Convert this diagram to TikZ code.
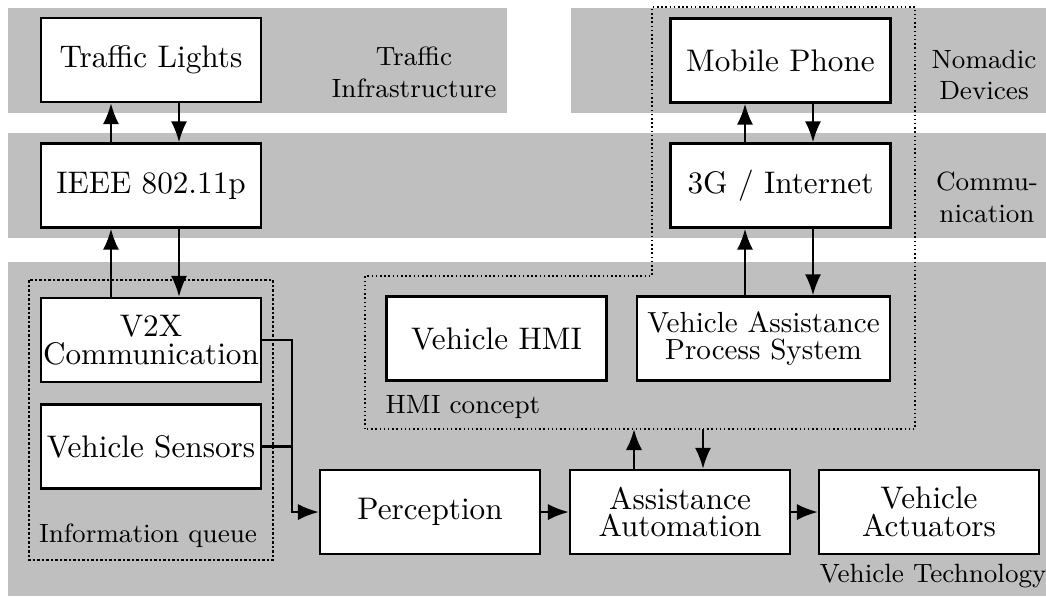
\documentclass[tikz,border=0pt]{standalone}
\usetikzlibrary{arrows.meta,calc}
\begin{document}
\begin{tikzpicture}[x=0.3333pt,y=-0.3333pt,
  band/.style={fill=lightgray,draw=none},
  blk/.style={draw,fill=white,line width=0.75pt,minimum width=73.3pt,minimum height=28pt,
    align=center,inner sep=0.4pt,font=\fontsize{10.4pt}{9.3pt}\selectfont},
  lbl/.style={font=\fontsize{8.8pt}{10.6pt}\selectfont,align=center,inner sep=0pt},
  arr/.style={-{Latex[length=7pt,width=5.4pt]},line width=0.85pt},
  link/.style={line width=0.85pt},
  grpdot/.style={line width=0.6pt,dash pattern=on 0.5pt off 0.9pt},
  grpdash/.style={line width=0.6pt,dash pattern=on 0.9pt off 0.6pt}]
\useasboundingbox (0,0) rectangle (1046,597);

% layer bands
\fill[band] (8,8) rectangle (507,113);
\fill[band] (571,8) rectangle (1046,113);
\fill[band] (8,133) rectangle (1046,238);
\fill[band] (8,262) rectangle (1046,596);

% band captions
\node[lbl] at (414,72.5) {Traffic\\Infrastructure};
\node[lbl] at (984,75) {Nomadic\\Devices};
\node[lbl] at (987,197.5) {Commu-\\nication};
\node[lbl,anchor=base] at (933,582) {Vehicle Technology};

% groups
\draw[grpdash] (29,280) rectangle (273,560);
\node[lbl,anchor=base] at (148,542) {Information queue};
\draw[grpdot] (365,429) -- (365,276) -- (652,276) -- (652,7) -- (915,7) -- (915,429) -- cycle;
\node[lbl,anchor=base west] at (385,413) {HMI concept};

% blocks
\node[blk] (tl) at (151,60) {Traffic Lights};
\node[blk] (ieee) at (151,185.5) {IEEE 802.11p};
\node[blk] (v2x) at (151,340) {V2X\\Communication};
\node[blk] (sens) at (151,446.5) {Vehicle Sensors};
\node[blk] (perc) at (430,512) {Perception};
\node[blk] (assist) at (680,512) {Assistance\\Automation};
\node[blk] (act) at (929,512) {Vehicle\\Actuators};
\node[blk] (mobile) at (780.5,60.5) {Mobile Phone};
\node[blk] (inet) at (780.5,185.5) {3G / Internet};
\node[blk,minimum width=84.3pt,font=\fontsize{9.7pt}{8.9pt}\selectfont] (vaps) at (763.5,338.5)
  {Vehicle Assistance\\Process System};
\node[blk] (hmi) at (496.5,338.5) {Vehicle HMI};

% connector columns
\coordinate (c1) at (111,0);
\coordinate (c2) at (179,0);
\coordinate (c3) at (745,0);
\coordinate (c4) at (813,0);
\coordinate (j) at (292,0);
\coordinate (hmiup) at (634,429);
\coordinate (hmidown) at (703,429);

% connectors
\draw[arr] (ieee.north -| c1) -- (tl.south -| c1);
\draw[arr] (tl.south -| c2) -- (ieee.north -| c2);
\draw[arr] (v2x.north -| c1) -- (ieee.south -| c1);
\draw[arr] (ieee.south -| c2) -- (v2x.north -| c2);
\draw[arr] (inet.north -| c3) -- (mobile.south -| c3);
\draw[arr] (mobile.south -| c4) -- (inet.north -| c4);
\draw[arr] (vaps.north -| c3) -- (inet.south -| c3);
\draw[arr] (inet.south -| c4) -- (vaps.north -| c4);
\draw[arr] (v2x.east) -- (v2x.east -| j) |- (perc.west);
\draw[link] (sens.east) -- (sens.east -| j);
\draw[arr] (perc) -- (assist);
\draw[arr] (assist) -- (act);
\draw[arr] (assist.north -| hmiup) -- (hmiup);
\draw[arr] (hmidown) -- (assist.north -| hmidown);
\end{tikzpicture}
\end{document}
